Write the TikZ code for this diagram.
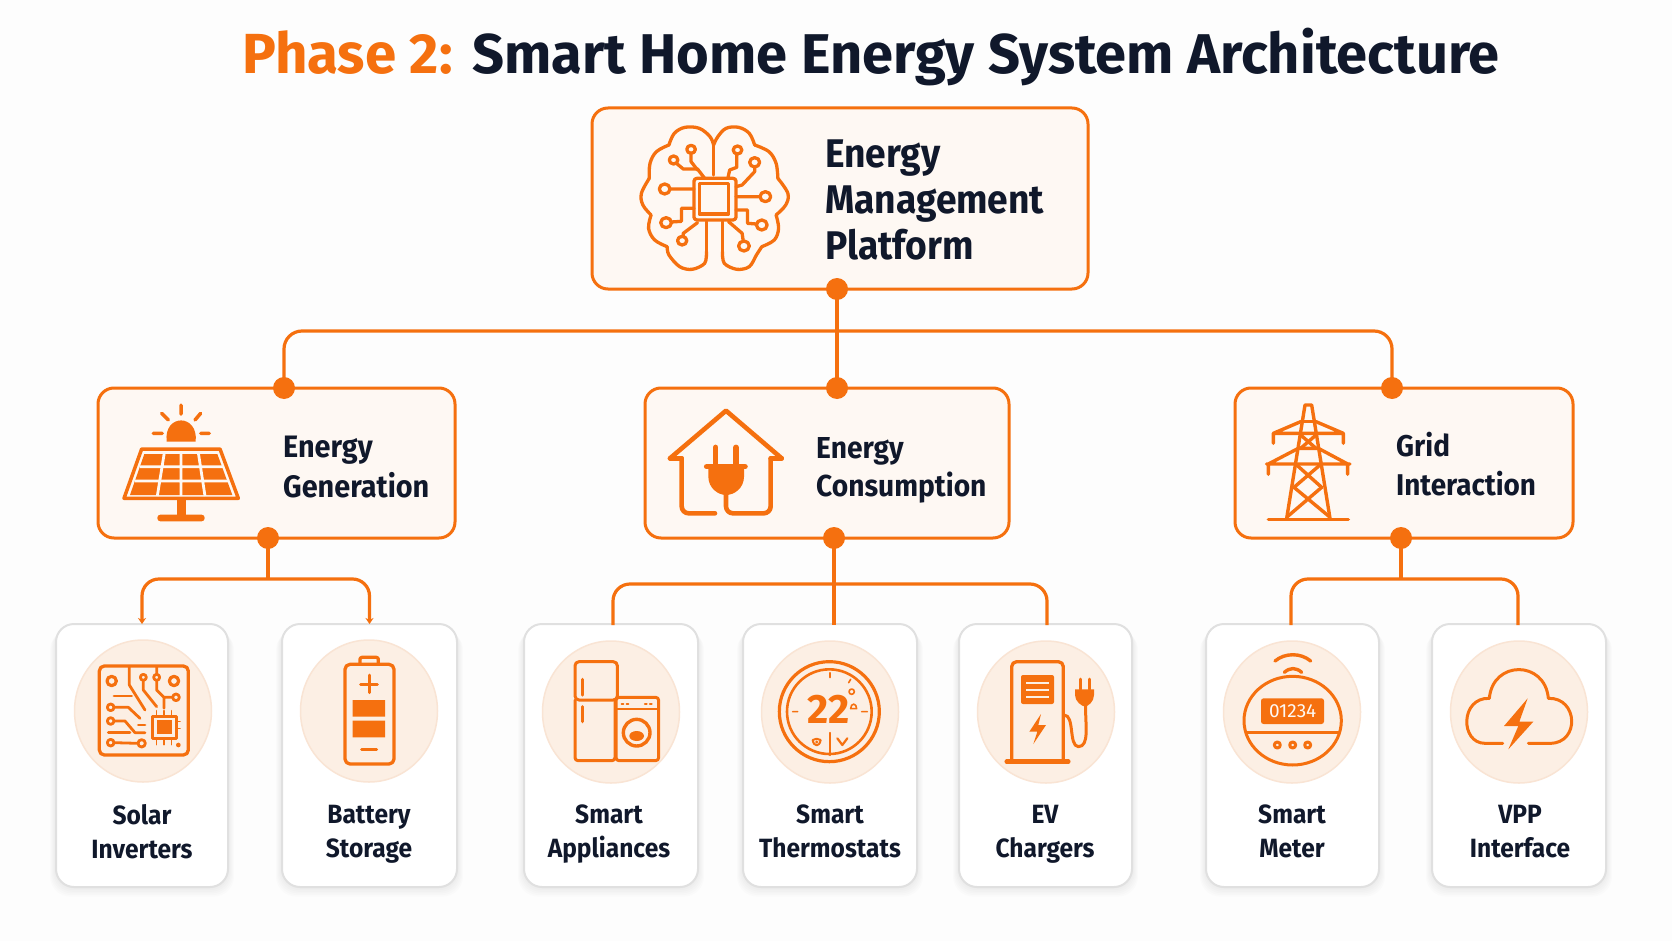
\documentclass[tikz,border=0pt]{standalone}
\usepackage{fontspec}
\setmainfont{Fira Sans}
\newfontfamily\narfam{Fira Sans}[FakeStretch=0.93]
\usetikzlibrary{arrows.meta,calc,shapes.geometric}
\definecolor{org}{HTML}{F5700F}
\definecolor{ink}{HTML}{10182B}
\definecolor{boxfill}{HTML}{FEF8F3}
\definecolor{circfill}{HTML}{FCEFE4}
\definecolor{circline}{HTML}{F9E4D4}
\definecolor{cardline}{HTML}{E0E0E0}
\definecolor{paper}{HTML}{FDFDFD}
\newcommand{\fs}[2]{\fontsize{#1}{#2}\selectfont\bfseries}
\newcommand{\fn}[2]{\narfam\fontsize{#1}{#2}\selectfont\bfseries}
\newcommand{\linea}{\vphantom{Ey}}
\newcommand{\lineb}{\vphantom{Eg}}
\tikzset{
  mainbox/.style={draw=org,fill=boxfill,line width=3pt,rounded corners=16pt,inner sep=0pt,outer sep=0pt},
  card/.style={draw=cardline,fill=white,line width=2pt,rounded corners=18pt,inner sep=0pt,outer sep=0pt,minimum width=#1,minimum height=263pt},
  cardshadow/.style={fill=black,opacity=.012,rounded corners=20pt},
  disc/.style={draw=circline,fill=circfill,line width=1.5pt,ellipse,minimum width=137pt,minimum height=142pt,inner sep=0pt},
  dot/.style={circle,fill=org,minimum size=22pt,inner sep=0pt,outer sep=0pt},
  conn/.style={draw=org,line width=3.2pt},
  ic/.style={draw=org,line width=3pt,line cap=round,line join=round},
  lab/.style={text=ink,inner sep=0pt,align=center,font=\fn{26.4}{34}},
  head/.style={text=ink,inner sep=0pt,align=left}
}
\begin{document}
\begin{tikzpicture}[x=1pt,y=-1pt]
\useasboundingbox (0,0) rectangle (1672,941);
\fill[paper] (0,0) rectangle (1672,941);
% title
\node[anchor=base west,inner sep=0pt,text=org,font=\fs{56.5}{60}] (ttlA) at (242,74) {Phase 2:};
\node[anchor=base west,inner sep=0pt,text=ink,font=\fs{56}{60}] (ttlB) at (472,74) {Smart Home Energy System Architecture};
% boxes
\node[mainbox,minimum width=496pt,minimum height=181pt] (ems) at (840,198.5) {};
\node[mainbox,minimum width=357pt,minimum height=150pt] (gen) at (276.5,463) {};
\node[mainbox,minimum width=364pt,minimum height=150pt] (cons) at (827,463) {};
\node[mainbox,minimum width=338pt,minimum height=150pt] (grid) at (1404,463) {};
% card shadows
\foreach \a/\b in {56/228,282/457,524/698,743/917,959/1132,1206/1379,1432/1606}{
  \foreach \d in {1,...,6}{
    \fill[cardshadow] ({\a-\d},{624+\d}) rectangle ({\b+\d},{887+1.6*\d});
  }
}
% cards
\node[card=172pt] (solar) at (142,755.5) {};
\node[card=175pt] (batt) at (369.5,755.5) {};
\node[card=174pt] (appl) at (611,755.5) {};
\node[card=174pt] (therm) at (830,755.5) {};
\node[card=173pt] (ev) at (1045.5,755.5) {};
\node[card=173pt] (meter) at (1292.5,755.5) {};
\node[card=174pt] (vpp) at (1519,755.5) {};
% discs
\node[disc] (dsolar) at (143,711) {};
\node[disc] (dbatt) at (369,711) {};
\node[disc] (dappl) at (611,712) {};
\node[disc] (dtherm) at (830,712) {};
\node[disc] (dev) at (1046,712) {};
\node[disc] (dmeter) at (1292,712) {};
\node[disc] (dvpp) at (1519,712) {};
% connector helpers
\coordinate (emsB) at (837,289);
\coordinate (genT) at (284,388);
\coordinate (consT) at (837,388);
\coordinate (gridT) at (1392,388);
\coordinate (genB) at (268,538);
\coordinate (consB) at (834,538);
\coordinate (gridB) at (1401,538);
\coordinate (busT) at (837,331);
\coordinate (busG) at (268,579);
\coordinate (busC) at (834,584);
\coordinate (busD) at (1401,579);
\coordinate (applT) at (613,625);
\coordinate (thermT) at (834,625);
\coordinate (evT) at (1047,625);
\coordinate (meterT) at (1291,625);
\coordinate (vppT) at (1518,625);
% connectors
\draw[conn,rounded corners=18pt] (genT) |- (busT) -| (gridT);
\draw[conn] (emsB) -- (consT);
\draw[conn] (genB) -- (busG);
\draw[conn,rounded corners=17pt,{Stealth[length=6pt,width=8pt,sharp]}-{Stealth[length=6pt,width=8pt,sharp]}] (solar.north) |- (busG) -| (batt.north);
\draw[conn] (consB) -- (thermT);
\draw[conn,rounded corners=17pt] (applT) |- (busC) -| (evT);
\draw[conn] (gridB) -- (busD);
\draw[conn,rounded corners=17pt] (meterT) |- (busD) -| (vppT);
% dots
\node[dot] (dotA) at (emsB) {};
\node[dot] (dotB) at (genT) {};
\node[dot] (dotC) at (consT) {};
\node[dot] (dotD) at (gridT) {};
\node[dot] (dotE) at (genB) {};
\node[dot] (dotF) at (consB) {};
\node[dot] (dotG) at (gridB) {};
% head text
\node[anchor=west,head,font=\fn{40}{46}] (tems) at (825,200) {Energy\\Management\\Platform};
\node[anchor=west,head,font=\fn{31}{39.5}] (tgen) at (283,467) {Energy\\Generation};
\node[anchor=west,head,font=\fn{30.3}{38.5}] (tcons) at (816,470.5) {Energy\\Consumption};
\node[anchor=west,head,font=\fn{30}{38.5}] (tgrid) at (1396,464) {Grid\\Interaction};
% card labels
\node[lab] (lsolar) at (142,834) {\linea Solar\\Inverters\lineb};
\node[lab] (lbatt) at (369,834) {\linea Battery\\Storage\lineb};
\node[lab] (lappl) at (609,834) {\linea Smart\\Appliances\lineb};
\node[lab] (ltherm) at (830,834) {\linea Smart\\Thermostats\lineb};
\node[lab] (lev) at (1045,834) {\linea EV\\Chargers\lineb};
\node[lab] (lmeter) at (1292,834) {\linea Smart\\Meter\lineb};
\node[lab] (lvpp) at (1520,834) {\linea VPP\\Interface\lineb};
% brain icon
\begin{scope}[shift={(560,90)},x=0.35714pt,y=-0.33333pt,ic/.append style={line width=3.3pt}]
\draw[ic] plot[smooth,tension=.55] coordinates {(410,485)(405,520)(370,538)(335,530)(305,495)(300,470)};
\draw[ic] plot[smooth,tension=.6] coordinates {(300,470)(265,450)(248,415)(255,375)};
\draw[ic] plot[smooth,tension=.6] coordinates {(255,375)(232,345)(228,310)(250,265)};
\draw[ic] plot[smooth,tension=.6] coordinates {(250,265)(252,220)(270,185)(305,165)};
\draw[ic] plot[smooth,tension=.6] coordinates {(305,165)(320,130)(350,112)(390,115)(420,140)(430,165)};
\draw[ic] plot[smooth,tension=.55] coordinates {(455,485)(460,520)(495,538)(530,530)(550,495)(565,470)};
\draw[ic] plot[smooth,tension=.6] coordinates {(565,470)(600,450)(612,415)(605,375)};
\draw[ic] plot[smooth,tension=.6] coordinates {(605,375)(632,345)(638,310)(610,265)};
\draw[ic] plot[smooth,tension=.6] coordinates {(610,265)(605,220)(585,185)(545,165)};
\draw[ic] plot[smooth,tension=.6] coordinates {(545,165)(530,130)(500,112)(465,115)(442,140)(430,165)};
\draw[ic] (430,165)--(430,255);
\draw[ic] (410,395)--(410,485) (455,395)--(455,485);
\draw[ic,rounded corners=3pt] (375,265) rectangle (493,390);
\draw[ic] (390,280) rectangle (472,372);
\draw[ic] (293,297) circle[radius=15] (308,297)--(375,297);
\draw[ic] (297,398) circle[radius=15] (312,396)--(340,394)--(340,355)--(375,355);
\draw[ic] (342,452) circle[radius=13] (345,439)--(345,430)--(385,398);
\draw[ic] (318,210) circle[radius=12] (326,220)--(345,237)--(385,237)--(405,265);
\draw[ic] (367,178) circle[radius=12] (367,190)--(367,215)--(385,240);
\draw[ic] (497,180) circle[radius=12] (495,192)--(495,232)--(475,240)--(470,265);
\draw[ic] (545,217) circle[radius=14] (545,231)--(545,245)--(510,285)--(493,290);
\draw[ic] (575,320) circle[radius=15] (560,320)--(493,320);
\draw[ic] (565,405) circle[radius=15] (550,402)--(525,400)--(525,360)--(493,360);
\draw[ic] (515,468) circle[radius=15] (513,453)--(510,430)--(472,395);
\end{scope}
% solar panel icon
\begin{scope}[shift={(80,370)},x=0.33333pt,y=-0.33333pt]
\fill[org] (260,215) .. controls (250,130) and (356,130) .. (347,215) -- cycle;
\draw[ic,line width=3.5pt] (303,105)--(303,132) (245,130)--(265,150) (362,130)--(345,150) (220,190)--(247,190) (362,190)--(388,190);
\draw[ic,fill=boxfill,line width=3.5pt] (185,237)--(420,237)--(475,385)--(132,385)--cycle;
\fill[org] (193,252)--(412,252)--(457,375)--(150,375)--cycle;
\draw[draw=boxfill,line width=2.8pt] (180,290)--(430,290) (165,333)--(445,333) (253,248)--(232,378) (303,248)--(303,378) (355,248)--(375,378);
\fill[org] (290,388) rectangle (317,437);
\fill[org,rounded corners=3pt] (232,434) rectangle (374,454);
\end{scope}
% house plug icon
\begin{scope}[shift={(640,380)},x=0.33333pt,y=-0.33333pt]
\draw[ic,line width=4.6pt] (90,235)--(258,92)--(425,235);
\draw[ic,line width=4.6pt] (90,235)--(125,235) (392,235)--(425,235);
\draw[ic,line width=4.6pt,rounded corners=7pt] (125,235)--(125,400)--(225,400);
\draw[ic,line width=4.6pt,rounded corners=7pt] (392,235)--(392,400)--(258,400)--(258,340);
\draw[ic,line width=5.5pt] (227,202)--(227,255) (288,202)--(288,255);
\draw[ic,line width=5.5pt] (200,260)--(315,260);
\fill[org] (205,262)--(205,290) .. controls (205,325) and (235,345) .. (258,345) .. controls (282,345) and (312,325) .. (312,290) -- (312,262) -- cycle;
\end{scope}
% pylon icon
\begin{scope}[shift={(1230,380)},x=0.33333pt,y=-0.33333pt,ic/.append style={line width=3.4pt}]
\draw[ic] (170,415)--(225,75)--(245,75)--(300,415);
\draw[ic] (212,125)--(258,125);
\draw[ic] (130,190)--(130,160)--(212,125) (130,160)--(340,160) (340,190)--(340,160)--(258,125);
\draw[ic] (115,283)--(115,252)--(205,205) (110,252)--(360,252) (353,283)--(353,252)--(265,205) (205,205)--(265,205);
\draw[ic] (212,165)--(258,205) (258,165)--(212,205);
\draw[ic] (200,255)--(275,322) (270,255)--(192,322);
\draw[ic] (192,322)--(298,410) (275,322)--(172,410);
\draw[ic] (115,418)--(355,418);
\end{scope}
% pcb icon
\begin{scope}[shift={(40,610)},x=0.33333pt,y=-0.33333pt]
\draw[ic,rounded corners=5pt,line width=3.3pt] (178,168) rectangle (445,435);
\draw[ic,line width=3.2pt] (215,213) circle[radius=14] (402,213) circle[radius=14];
\draw[ic,line width=2.8pt] (310,202) circle[radius=9] (350,202) circle[radius=9] (408,262) circle[radius=10] (212,292) circle[radius=10] (212,333) circle[radius=10] (212,398) circle[radius=10] (305,400) circle[radius=11];
\draw[ic,line width=2.8pt] (268,170)--(268,225)--(315,300);
\draw[ic,line width=2.8pt] (310,212)--(310,240)--(350,290);
\draw[ic,line width=2.8pt] (350,170)--(350,192) (350,212)--(350,240)--(372,262)--(398,262) (372,262)--(372,295);
\draw[ic,line width=2.8pt] (222,258)--(275,258);
\draw[ic,line width=2.8pt] (222,292)--(265,292)--(300,325);
\draw[ic,line width=2.8pt] (222,333)--(255,333)--(285,368)--(315,368);
\draw[ic,line width=2.8pt] (205,368)--(270,368);
\draw[ic,line width=2.8pt] (222,398)--(294,400);
\draw[ic,line width=2.8pt] (295,345)--(315,345);
\draw[ic,line width=2.8pt] (337,320) rectangle (410,385);
\fill[org] (352,330) rectangle (395,372);
\draw[ic,line width=1.6pt] (350,302)--(350,318) (372,302)--(372,318) (394,302)--(394,318) (350,388)--(350,404) (372,388)--(372,404) (394,388)--(394,404) (420,335)--(412,335) (420,355)--(412,355);
\fill[org] (415,405) circle[radius=7];
% battery
\draw[ic,rounded corners=5pt,line width=3.3pt] (915,163) rectangle (1062,462);
\draw[ic,rounded corners=2pt,line width=3.3pt] (960,163)--(960,142)--(1015,142)--(1015,163);
\draw[ic,line width=3pt] (988,195)--(988,248) (962,222)--(1012,222) (965,418)--(1010,418);
\fill[org] (938,270) rectangle (1035,320) (938,332) rectangle (1035,382);
\end{scope}
% appliance icon + thermostat
\begin{scope}[shift={(510,610)},x=0.33333pt,y=-0.33333pt]
\draw[ic,line width=3pt,rounded corners=4pt] (195,270)--(195,155)--(322,155)--(322,270)--cycle;
\draw[ic,line width=3pt,rounded corners=3pt] (195,270)--(195,452)--(315,452)--(315,270);
\draw[ic,line width=3.2pt] (218,208)--(218,255) (218,290)--(218,335);
\draw[ic,rounded corners=3pt,line width=3pt] (318,262) rectangle (446,452);
\draw[ic,line width=2.4pt] (318,297)--(446,297);
\draw[ic,line width=2.2pt] (335,283)--(340,283) (350,283)--(355,283) (405,283)--(410,283) (420,283)--(425,283);
\draw[ic,line width=3.4pt] (380,368) circle[radius=40];
\fill[org] (380,378) ellipse[x radius=22,y radius=15];
% thermostat
\draw[ic,line width=3.2pt] (958,305) circle[radius=150];
\draw[ic,line width=2.6pt] (958,305) circle[radius=127];
\node[inner sep=0pt,text=org,font=\fs{41}{45}] (t22) at (955,298) {22};
\draw[ic,line width=1.6pt] (1025,245) circle[radius=8];
\draw[ic,line width=1.6pt,fill=none] (1022,296) .. controls (1022,278) and (1040,278) .. (1040,296) -- cycle;
\draw[ic,line width=1.6pt] (960,188)--(960,203) (1022,208)--(1016,218) (848,305)--(863,305) (1055,305)--(1072,305);
\draw[ic,line width=1.6pt] (960,368)--(960,436);
\draw[ic,line width=2pt] (908,390) .. controls (915,385) and (925,385) .. (932,390) .. controls (930,402) and (925,405) .. (920,406) .. controls (913,405) and (910,400) .. (908,390) -- cycle;
\fill[org] (920,396) circle[radius=5];
\draw[ic,line width=2.2pt] (982,385)--(997,405)--(1012,385);
\end{scope}
% ev charger + meter
\begin{scope}[shift={(940,610)},x=0.33333pt,y=-0.33333pt]
\draw[ic,rounded corners=5pt,line width=3.3pt] (215,452)--(215,155)--(370,155)--(370,452);
\draw[ic,line width=4.4pt] (200,455)--(385,455);
\fill[org,rounded corners=2pt] (243,195) rectangle (342,282);
\draw[draw=circfill,line width=1.8pt] (258,218)--(328,218) (258,240)--(328,240) (258,262)--(328,262);
\fill[org] (303,312)--(268,365)--(292,365)--(280,402)--(318,345)--(295,345)--cycle;
\draw[ic,line width=3pt] (372,315) .. controls (405,315) and (385,408) .. (415,410) .. controls (450,410) and (435,340) .. (437,285);
\fill[org] (405,238) -- (405,255) .. controls (405,275) and (425,288) .. (435,290) .. controls (445,288) and (462,275) .. (462,255) -- (462,238) -- cycle;
\draw[ic,line width=3pt] (420,207)--(420,238) (448,207)--(448,238);
% meter
\draw[ic,line width=3pt] (1058,332) ellipse[x radius=146,y radius=133];
\draw[ic,line width=3pt] (918,368)--(1198,368);
\fill[org,rounded corners=2.5pt] (963,265) rectangle (1152,342);
\node[inner sep=0pt,text=boxfill,font=\fontsize{19}{22}\selectfont] (t012) at (1058,304) {01234};
\draw[ic,line width=3pt] (1012,405) circle[radius=9] (1058,405) circle[radius=9] (1103,405) circle[radius=9];
\draw[ic,line width=3.4pt] (1005,153) .. controls (1035,128) and (1082,128) .. (1112,153);
\draw[ic,line width=3.4pt] (1033,187) .. controls (1050,172) and (1068,172) .. (1085,187);
\end{scope}
% cloud
\begin{scope}[shift={(1400,610)},x=0.33333pt,y=-0.33333pt]
\draw[ic,line width=3pt] (308,400)--(255,400) .. controls (180,400) and (180,262) .. (268,265) .. controls (278,150) and (435,150) .. (445,265) .. controls (535,262) and (540,400) .. (450,400) -- (385,400);
\fill[org] (383,265)--(312,348)--(355,348)--(325,418)--(400,335)--(358,335)--cycle;
\end{scope}
\end{tikzpicture}
\end{document}
